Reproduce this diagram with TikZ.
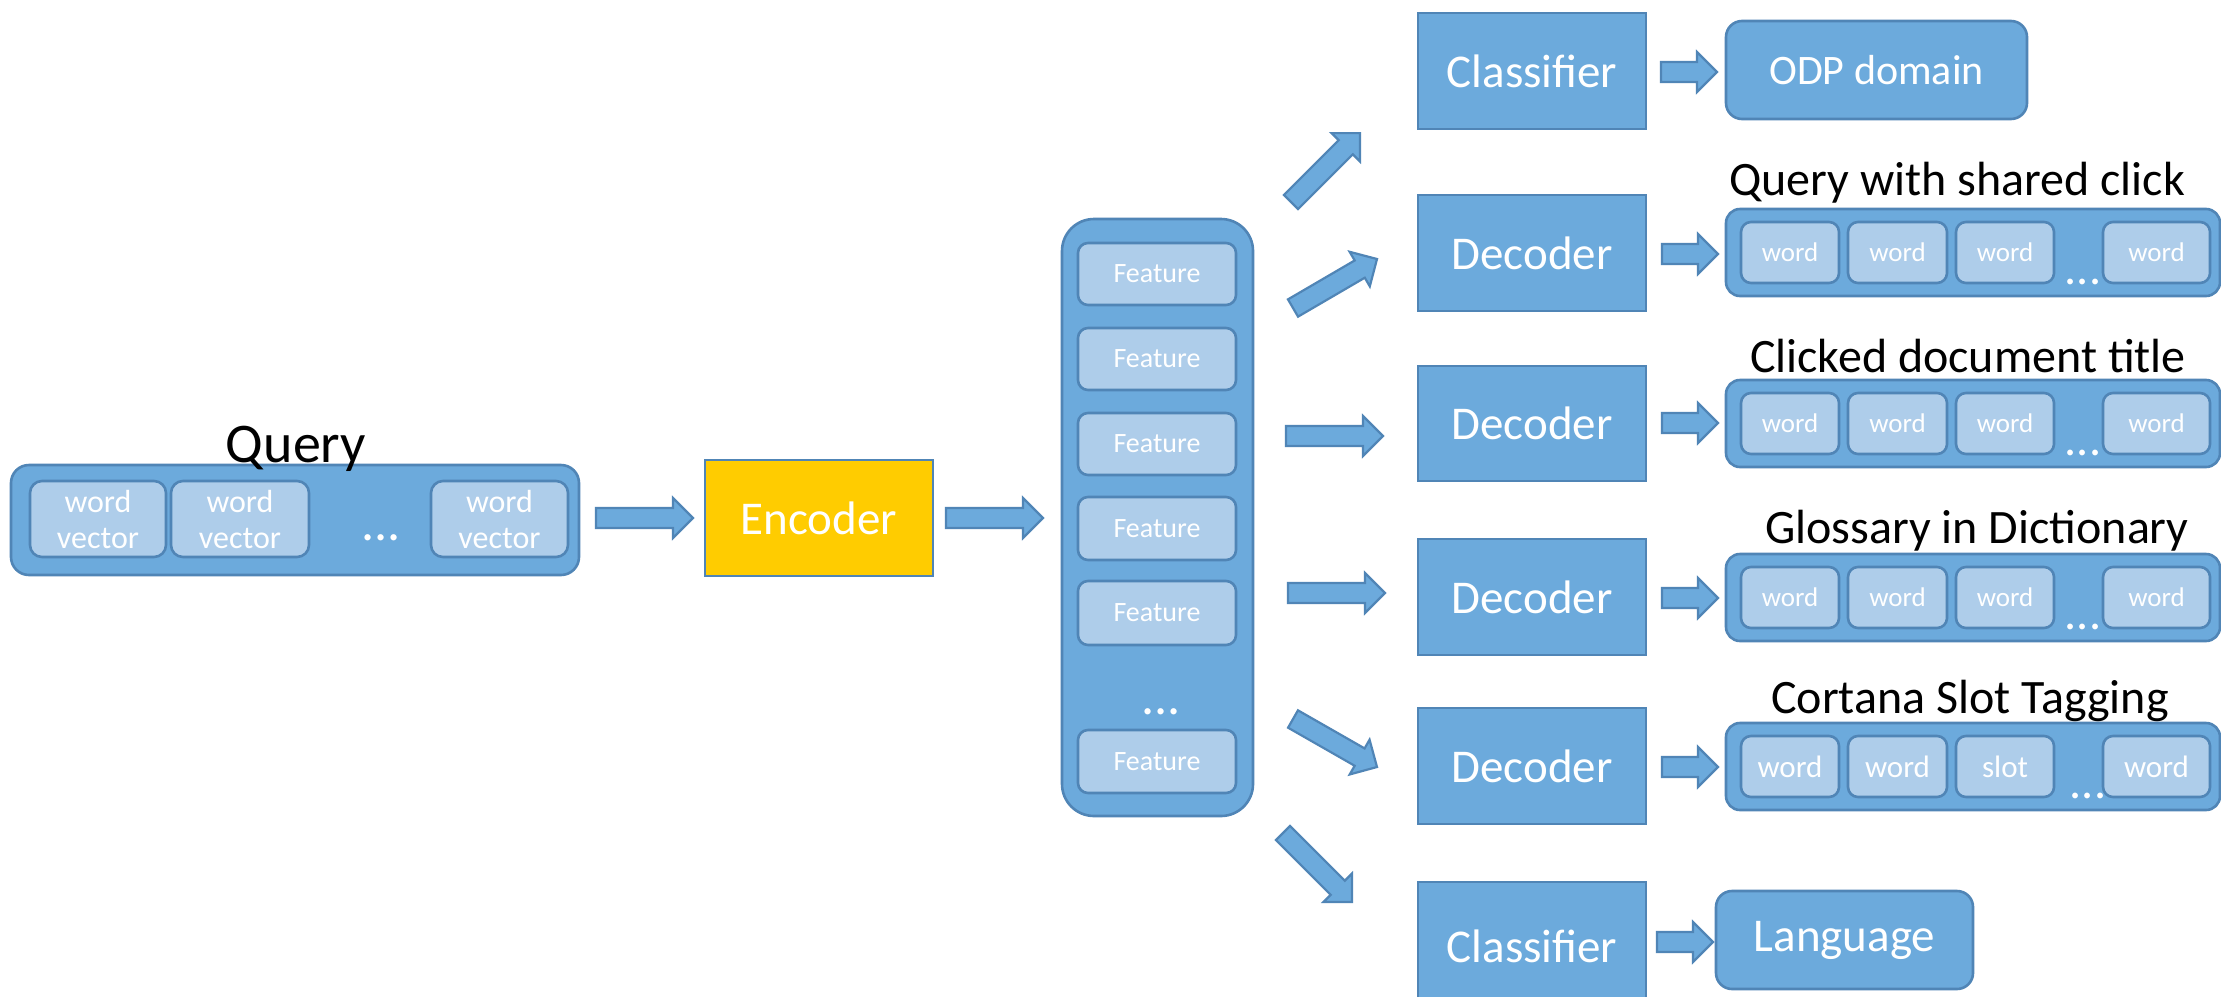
\documentclass[tikz,border=0pt]{standalone}
\usepackage{fontspec}
\setmainfont{Carlito}
\usetikzlibrary{calc}
\definecolor{boxfill}{RGB}{108,170,220}
\definecolor{boxline}{RGB}{80,133,182}
\definecolor{innerfill}{RGB}{174,205,234}
\definecolor{encfill}{RGB}{255,204,0}
% style, name, x1, y1, x2, y2, text  (pixel coordinates)
\newcommand\boxnode[7]{\node[#1, minimum width={((#5)-(#3))*0.5pt}, minimum height={((#6)-(#4))*0.5pt}] (#2) at ({((#3)+(#5))/2},{((#4)+(#6))/2}) {#7};}
% block arrow from coordinate #1 to coordinate #2
\newcommand\fatarrow[2]{%
  \pgfpointdiff{\pgfpointanchor{#1}{center}}{\pgfpointanchor{#2}{center}}%
  \pgfgetlastxy{\fax}{\fay}%
  \pgfmathsetmacro\falen{2*veclen(\fax,\fay)}%
  \pgfmathsetmacro\faang{atan2(\fay,\fax)}%
  \begin{scope}[shift={(#1)}, rotate=\faang]
    \draw[fat] (0,10) -- ({\falen-20},10) -- ({\falen-20},20) -- (\falen,0) -- ({\falen-20},-20) -- ({\falen-20},-10) -- (0,-10) -- cycle;
  \end{scope}}
\newcommand\wordlist[8]{% name, top, four labels, font size, dots x
  \boxnode{listbox}{#1}{1726}{#2}{2220}{(#2)+87}{}
  \boxnode{wbox,font=\fontsize{#7}{#7}\selectfont}{#1a}{1741}{(#2)+13}{1839}{(#2)+74}{#3}
  \boxnode{wbox,font=\fontsize{#7}{#7}\selectfont}{#1b}{1848}{(#2)+13}{1947}{(#2)+74}{#4}
  \boxnode{wbox,font=\fontsize{#7}{#7}\selectfont}{#1c}{1956}{(#2)+13}{2054}{(#2)+74}{#5}
  \boxnode{wbox,font=\fontsize{#7}{#7}\selectfont}{#1d}{2103}{(#2)+13}{2210}{(#2)+74}{#6}
  \node[dots, font=\fontsize{24}{24}\selectfont] (#1dots) at (#8,{(#2)+75}) {...};
}
\begin{document}
\begin{tikzpicture}[x=0.5pt,y=-0.5pt,
  bx/.style={draw=boxline, line width=1.3pt, inner sep=0pt, outer sep=0pt, text=white, align=center},
  sq/.style={bx, fill=boxfill, font=\fontsize{23.5}{28}\selectfont},
  enc/.style={bx, fill=encfill, font=\fontsize{23.5}{28}\selectfont},
  outerq/.style={bx, fill=boxfill, rounded corners=9pt},
  featcol/.style={bx, fill=boxfill, rounded corners=16pt},
  inq/.style={bx, fill=innerfill, rounded corners=6pt, font=\fontsize{16}{18}\selectfont},
  feat/.style={bx, fill=innerfill, rounded corners=5pt, font=\fontsize{14}{16}\selectfont},
  res/.style={bx, fill=boxfill, rounded corners=8pt},
  listbox/.style={bx, fill=boxfill, rounded corners=7pt},
  wbox/.style={bx, fill=innerfill, rounded corners=5pt},
  title/.style={anchor=base, inner sep=0pt, text=black},
  dots/.style={anchor=base, inner sep=0pt, text=white},
  fat/.style={draw=boxline, fill=boxfill, line width=1.1pt, line join=miter}]
\useasboundingbox (0,0) rectangle (2221,996);
\fill[white] (0,0) rectangle (2221,996);
\clip (0,0) rectangle (2221,996);

% Query input
\boxnode{outerq}{qbox}{11}{465}{579}{575}{}
\boxnode{inq}{qw1}{30}{481}{166}{557}{word\\vector}
\boxnode{inq}{qw2}{171}{481}{309}{557}{word\\vector}
\boxnode{inq}{qw3}{431}{481}{568}{557}{word\\vector}
\node[dots, font=\fontsize{26}{26}\selectfont] (qdots) at (381,540) {...};
\node[title, font=\fontsize{28}{30}\selectfont] (qtitle) at (296,462) {Query};

% Encoder
\boxnode{enc}{encoder}{705}{460}{933}{576}{Encoder}

% Feature column
\boxnode{featcol}{fcol}{1062}{219}{1253}{816}{}
\boxnode{feat}{f1}{1078}{243}{1236}{305}{Feature}
\boxnode{feat}{f2}{1078}{328}{1236}{390}{Feature}
\boxnode{feat}{f3}{1078}{413}{1236}{475}{Feature}
\boxnode{feat}{f4}{1078}{497}{1236}{560}{Feature}
\boxnode{feat}{f5}{1078}{581}{1236}{645}{Feature}
\boxnode{feat}{f6}{1078}{730}{1236}{793}{Feature}
\node[dots, font=\fontsize{26}{26}\selectfont] (fdots) at (1161,714) {...};

% Heads
\boxnode{sq}{cls1}{1418}{13}{1646}{129}{Classifier}
\boxnode{sq}{dec1}{1418}{195}{1646}{311}{Decoder}
\boxnode{sq}{dec2}{1418}{366}{1646}{481}{Decoder}
\boxnode{sq}{dec3}{1418}{539}{1646}{655}{Decoder}
\boxnode{sq}{dec4}{1418}{708}{1646}{824}{Decoder}
\boxnode{sq}{cls2}{1418}{882}{1646}{1010}{Classifier}

% Outputs
\boxnode{res,font=\fontsize{21}{24}\selectfont}{odp}{1726}{21}{2027}{119}{ODP domain}
\boxnode{res,font=\fontsize{23.5}{28}\selectfont}{lang}{1716}{891}{1973}{989}{Language}

\wordlist{l1}{209}{word}{word}{word}{word}{13.5}{2083}
\wordlist{l2}{380}{word}{word}{word}{word}{13.5}{2083}
\wordlist{l3}{554}{word}{word}{word}{word}{13.5}{2083}
\wordlist{l4}{723}{word}{word}{slot}{word}{15.5}{2088}

\node[title, font=\fontsize{24}{26}\selectfont] (t1) at (1957,195) {Query with shared click};
\node[title, font=\fontsize{24}{26}\selectfont] (t2) at (1968,372) {Clicked document title};
\node[title, font=\fontsize{24}{26}\selectfont] (t3) at (1977,543) {Glossary in Dictionary};
\node[title, font=\fontsize{24}{26}\selectfont] (t4) at (1970,713) {Cortana Slot Tagging};

% Arrow end points
\coordinate (a1s) at (596,518);  \coordinate (a1e) at (693,518);
\coordinate (a2s) at (946,518);  \coordinate (a2e) at (1043,518);
\coordinate (bAs) at (1291,202); \coordinate (bAe) at (1360,133);
\coordinate (bBs) at (1293,308); \coordinate (bBe) at (1377,259);
\coordinate (bCs) at (1286,436); \coordinate (bCe) at (1383,436);
\coordinate (bDs) at (1288,593); \coordinate (bDe) at (1385,593);
\coordinate (bEs) at (1293,719); \coordinate (bEe) at (1377,767);
\coordinate (bFs) at (1283,833); \coordinate (bFe) at (1352,902);
\coordinate (s1s) at (1661,72);  \coordinate (s1e) at (1717,72);
\coordinate (s2s) at (1662,254); \coordinate (s2e) at (1718,254);
\coordinate (s3s) at (1662,423); \coordinate (s3e) at (1718,423);
\coordinate (s4s) at (1662,598); \coordinate (s4e) at (1718,598);
\coordinate (s5s) at (1662,767); \coordinate (s5e) at (1718,767);
\coordinate (s6s) at (1657,942); \coordinate (s6e) at (1713,942);

\fatarrow{a1s}{a1e}
\fatarrow{a2s}{a2e}
\fatarrow{bAs}{bAe}
\fatarrow{bBs}{bBe}
\fatarrow{bCs}{bCe}
\fatarrow{bDs}{bDe}
\fatarrow{bEs}{bEe}
\fatarrow{bFs}{bFe}
\fatarrow{s1s}{s1e}
\fatarrow{s2s}{s2e}
\fatarrow{s3s}{s3e}
\fatarrow{s4s}{s4e}
\fatarrow{s5s}{s5e}
\fatarrow{s6s}{s6e}
\end{tikzpicture}
\end{document}
